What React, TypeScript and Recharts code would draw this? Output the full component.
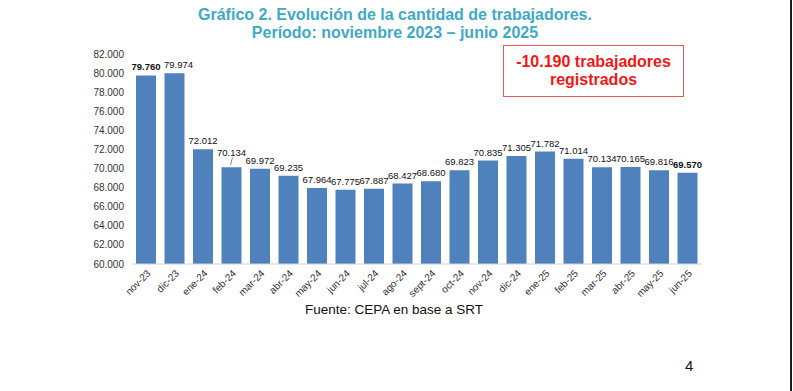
import React from 'react';
import { BarChart, Bar, XAxis, YAxis, LabelList } from 'recharts';

const months = [
  'nov-23', 'dic-23', 'ene-24', 'feb-24', 'mar-24', 'abr-24', 'may-24', 'jun-24', 'jul-24', 'ago-24',
  'sept-24', 'oct-24', 'nov-24', 'dic-24', 'ene-25', 'feb-25', 'mar-25', 'abr-25', 'may-25', 'jun-25',
];
const workers = [
  79760, 79974, 72012, 70134, 69972, 69235, 67964, 67775, 67887, 68427,
  68680, 69823, 70835, 71305, 71782, 71014, 70134, 70165, 69816, 69570,
];
const yTicks = [60000, 62000, 64000, 66000, 68000, 70000, 72000, 74000, 76000, 78000, 80000, 82000];

const chartData = months.map((m, i) => ({ month: m, value: workers[i] }));

// formato con punto de miles
const fmt = (v: number) => {
  const s = String(Math.round(v));
  return s.replace(/\B(?=(\d{3})+(?!\d))/g, '.');
};

const FONT = '"Liberation Sans", Arial, sans-serif';

const ValueLabel = (props: any) => {
  const { x, y, width, value, index } = props;
  const cx = x + width / 2;
  const bold = index === 0 || index === workers.length - 1;
  // etiqueta de feb-24 desplazada con línea guía
  const lifted = index === 3;
  const ty = lifted ? y - 11 : y - 5;
  return (
    <g>
      {lifted && <line x1={cx + 1} y1={y - 10} x2={cx - 1} y2={y - 2} stroke="#8c8c8c" strokeWidth={1} />}
      <text
        x={index === 1 ? cx + 4 : cx}
        y={ty}
        textAnchor="middle"
        fontSize={9.5}
        fontFamily={FONT}
        fontWeight={bold ? 'bold' : 'normal'}
        fill="#111"
      >
        {fmt(value)}
      </text>
    </g>
  );
};

const MonthTick = (props: any) => {
  const { x, y, payload } = props;
  return (
    <text
      x={x + 5}
      y={y + 8}
      transform={`rotate(-45, ${x + 5}, ${y + 8})`}
      textAnchor="end"
      fontSize={10}
      fontFamily={FONT}
      fill="#333"
    >
      {payload.value}
    </text>
  );
};

export default function App() {
  return (
    <div style={{ position: 'absolute', left: 0, top: 0, width: 793, height: 391, background: '#fff', fontFamily: FONT }}>
      <div
        style={{
          position: 'absolute',
          left: 0,
          width: 790,
          top: 6,
          textAlign: 'center',
          color: '#41A9C4',
          fontWeight: 'bold',
          fontSize: 16,
          lineHeight: '18px',
          fontFamily: '"Liberation Sans Narrow", "Arial Narrow", "Liberation Sans", Arial, sans-serif',
        }}
      >
        <div>Gráfico 2. Evolución de la cantidad de trabajadores.</div>
        <div>Período: noviembre 2023 – junio 2025</div>
      </div>

      <BarChart
        width={793}
        height={391}
        data={chartData}
        margin={{ top: 54, right: 91, bottom: 67, left: 72 }}
        style={{ position: 'absolute', left: 0, top: 0 }}
      >
        <XAxis
          dataKey="month"
          interval={0}
          tickLine={false}
          tickSize={0}
          axisLine={{ stroke: '#d0d0d0' }}
          tick={<MonthTick />}
          height={60}
        />
        <YAxis
          domain={[60000, 82000]}
          ticks={yTicks}
          interval={0}
          tickFormatter={fmt}
          axisLine={false}
          tickLine={false}
          tickSize={0}
          tickMargin={8}
          width={60}
          tick={{ fontSize: 10, fill: '#333', fontFamily: FONT }}
        />
        <Bar dataKey="value" fill="#4F81BD" barSize={20} isAnimationActive={false}>
          <LabelList dataKey="value" content={<ValueLabel />} />
        </Bar>
      </BarChart>

      <div
        style={{
          position: 'absolute',
          left: 503,
          top: 45,
          width: 181,
          height: 52,
          boxSizing: 'border-box',
          border: '1.5px solid #E25A5A',
          color: '#F01818',
          fontWeight: 'bold',
          fontSize: 16,
          lineHeight: '18px',
          textAlign: 'center',
          paddingTop: 7,
        }}
      >
        <div>-10.190 trabajadores</div>
        <div>registrados</div>
      </div>

      <div style={{ position: 'absolute', left: 305, top: 302, fontSize: 13.5, color: '#111' }}>
        Fuente: CEPA en base a SRT
      </div>
      <div style={{ position: 'absolute', left: 685, top: 357, fontSize: 15, color: '#111' }}>4</div>
      <div style={{ position: 'absolute', left: 790, top: 0, width: 2, height: 391, background: '#1e1e1e' }} />
    </div>
  );
}
